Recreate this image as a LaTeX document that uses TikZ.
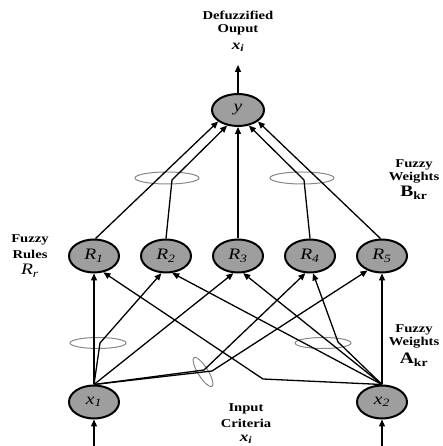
\documentclass[tikz,border=0pt]{standalone}
\usepackage{fontspec}
\setmainfont{Liberation Serif}
\usepackage{graphicx}
\usetikzlibrary{shapes.geometric,arrows.meta}
\definecolor{nodegray}{RGB}{158,158,158}
\definecolor{wgray}{RGB}{135,135,135}
\newcommand{\hstretch}[1]{\scalebox{1.22}[1]{#1}}
\begin{document}
\begin{tikzpicture}[x=1pt,y=1pt,
  neuron/.style={ellipse, draw=black, line width=2pt, fill=nodegray,
    minimum width=50pt, minimum height=33pt, inner sep=0pt,
    font=\fontsize{16}{16}\selectfont\itshape},
  conn/.style={line width=1.3pt, -{Triangle[length=7pt,width=6pt]}},
  weight/.style={draw=wgray, line width=1pt},
  lbl/.style={font=\fontsize{12}{12}\selectfont\bfseries, inner sep=0pt},
  sym/.style={font=\fontsize{14}{14}\selectfont\bfseries, inner sep=0pt}
]
\useasboundingbox (0,0) rectangle (442,446);

% weight ellipses
\draw[weight] (167,268) ellipse [x radius=32, y radius=6];
\draw[weight] (302,268) ellipse [x radius=32, y radius=6];
\draw[weight] (98,103) ellipse [x radius=28, y radius=5.5];
\draw[weight] (323,103) ellipse [x radius=28, y radius=5.5];
\draw[weight, rotate around={32:(203,74)}] (203,74) ellipse [x radius=5, y radius=17];

% nodes
\node[neuron, minimum width=52pt, minimum height=32pt] (y) at (238,336) {\hstretch{y}};
\node[neuron] (R1) at (94,190) {\hstretch{R\textsubscript{1}}};
\node[neuron] (R2) at (166,190) {\hstretch{R\textsubscript{2}}};
\node[neuron] (R3) at (238,190) {\hstretch{R\textsubscript{3}}};
\node[neuron] (R4) at (310,190) {\hstretch{R\textsubscript{4}}};
\node[neuron] (R5) at (382,190) {\hstretch{R\textsubscript{5}}};
\node[neuron] (x1) at (94,44) {\hstretch{x\textsubscript{1}}};
\node[neuron] (x2) at (382,44) {\hstretch{x\textsubscript{2}}};

% free ends and bends
\coordinate (out) at (238,381);
\coordinate (in1) at (94,0);
\coordinate (in2) at (382,0);
\coordinate (b2) at (172,266);
\coordinate (b4) at (304,266);
\coordinate (a12) at (100,103);
\coordinate (a14) at (204,76);
\coordinate (a15) at (212,75);
\coordinate (a21) at (263,67);
\coordinate (a24) at (338,104);

% output / inputs
\draw[conn] (y.north) -- (out);
\draw[conn] (in1) -- (x1.south);
\draw[conn] (in2) -- (x2.south);

% rules to output
\draw[conn] (R1.85) -- (y.210);
\draw[conn] (R2.north) -- (b2) -- (y.235);
\draw[conn] (R3.north) -- (y.south);
\draw[conn] (R4.north) -- (b4) -- (y.305);
\draw[conn] (R5.95) -- (y.330);

% inputs to rules
\draw[conn] (x1.north) -- (R1.south);
\draw[conn] (x1.north) -- (a12) -- (R2.255);
\draw[conn] (x1.north) -- (R3.255);
\draw[conn] (x1.north) -- (a14) -- (R4.255);
\draw[conn] (x1.north) -- (a15) -- (R5.225);
\draw[conn] (x2.north) -- (R5.south);
\draw[conn] (x2.north) -- (a21) -- (R1.300);
\draw[conn] (x2.north) -- (R2.290);
\draw[conn] (x2.north) -- (R3.287);
\draw[conn] (x2.north) -- (a24) -- (R4.280);

% labels
\node[lbl] (o1) at (238,431) {\hstretch{Defuzzified}};
\node[lbl] (o2) at (238,416) {\hstretch{Ouput}};
\node[sym] (o3) at (238,399) {\hstretch{\textit{x}\textsubscript{\textit{i}}}};

\node[lbl] (r1) at (30,206) {\hstretch{Fuzzy}};
\node[lbl] (r2) at (30,192) {\hstretch{Rules}};
\node[sym, font=\fontsize{16}{16}\selectfont\itshape] (r3) at (30,175) {\hstretch{R\textsubscript{r}}};

\node[lbl] (bw1) at (414,281) {\hstretch{Fuzzy}};
\node[lbl] (bw2) at (414,268) {\hstretch{Weights}};
\node[sym, font=\fontsize{16}{16}\selectfont\bfseries] (bw3) at (414,253) {\hstretch{B\textsubscript{kr}}};

\node[lbl] (aw1) at (414,116) {\hstretch{Fuzzy}};
\node[lbl] (aw2) at (414,103) {\hstretch{Weights}};
\node[sym, font=\fontsize{16}{16}\selectfont\bfseries] (aw3) at (414,86) {\hstretch{A\textsubscript{kr}}};

\node[lbl] (i1) at (246,37) {\hstretch{Input}};
\node[lbl] (i2) at (246,23) {\hstretch{Criteria}};
\node[sym] (i3) at (246,7) {\hstretch{\textit{x}\textsubscript{\textit{i}}}};
\end{tikzpicture}
\end{document}
